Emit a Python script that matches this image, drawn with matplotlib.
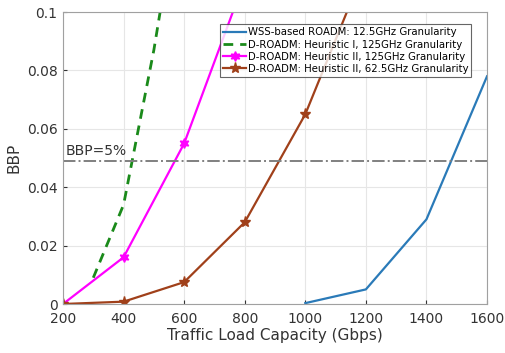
import numpy as np
import matplotlib.pyplot as plt

# data
wss_x = [1000, 1200, 1400, 1600]
wss_y = [0.0003, 0.005, 0.029, 0.078]
h1_x = [300, 400, 500, 600]
h1_y = [0.009, 0.034, 0.087, 0.15]
h2_125_x = [200, 400, 600, 800]
h2_125_y = [0.0, 0.016, 0.055, 0.111]
h2_625_x = [200, 400, 600, 800, 1000, 1200]
h2_625_y = [0.0, 0.0008, 0.0075, 0.028, 0.065, 0.116]
bbp_limit = 0.049

labels = ['WSS-based ROADM: 12.5GHz Granularity',
          'D-ROADM: Heuristic I, 125GHz Granularity',
          'D-ROADM: Heuristic II, 125GHz Granularity',
          'D-ROADM: Heuristic II, 62.5GHz Granularity']

fig = plt.figure(figsize=(5.06, 3.53), dpi=100)
ax = fig.add_axes([0.1245, 0.1388, 0.838, 0.827])

ax.plot(wss_x, wss_y, color='#2a7ab8', lw=1.6, label=labels[0])
ax.plot(h1_x, h1_y, color='#1a8a1a', lw=2, ls=(0, (3.5, 2.5)), label=labels[1])
ax.plot(h2_125_x, h2_125_y, color='#ff00ff', lw=1.6, marker=(6, 1, 0), ms=7, label=labels[2])
ax.plot(h2_625_x, h2_625_y, color='#a0401a', lw=1.6, marker='*', ms=8, label=labels[3])
ax.plot([200, 1600], [bbp_limit, bbp_limit], color='#808080', lw=1.4, ls='-.')
ax.text(210, 0.0512, 'BBP=5%', fontsize=10, color='#333333')

ax.set_xlim(200, 1600)
ax.set_ylim(0, 0.1)
ax.set_xticks(np.arange(200, 1601, 200))
ax.set_yticks([0, 0.02, 0.04, 0.06, 0.08, 0.1])
ax.set_yticklabels(['0', '0.02', '0.04', '0.06', '0.08', '0.1'])
ax.tick_params(direction='in', labelsize=10, colors='#333333', length=3)
ax.tick_params(axis='x', pad=6)
ax.tick_params(axis='y', pad=4)
ax.grid(True, color='#e6e6e6', lw=0.8)
for s in ax.spines.values():
    s.set_color('#a0a0a0')
ax.set_xlabel('Traffic Load Capacity (Gbps)', fontsize=11, color='#333333', labelpad=1)
ax.set_ylabel('BBP', fontsize=11, color='#333333', labelpad=4)

leg = ax.legend(loc='upper right', fontsize=7.3, handlelength=2.2, borderpad=0.3,
                labelspacing=0.2, handletextpad=0.2, fancybox=False,
                bbox_to_anchor=(0.975, 0.975))
leg.get_frame().set_edgecolor('#404040')
leg.get_frame().set_linewidth(0.8)

fig.savefig('out.png', dpi=100)
